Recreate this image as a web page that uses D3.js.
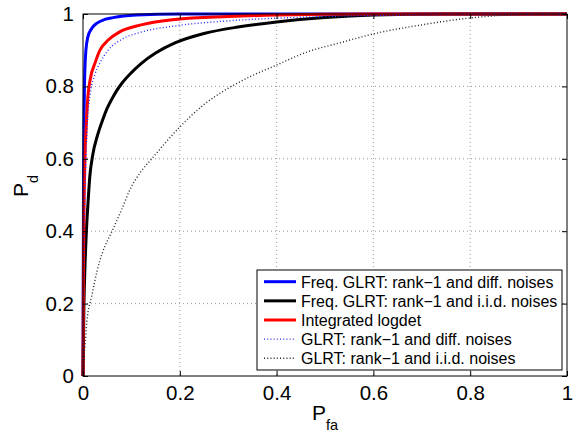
<!DOCTYPE html>
<html><head><meta charset="utf-8">
<script src="https://cdn.jsdelivr.net/npm/d3@7"></script>
<style>body{margin:0;background:#fff}svg{display:block}text{font-family:"Liberation Sans",Arial,sans-serif;fill:#000}</style>
</head><body>
<svg id="c" width="578" height="432"></svg>
<script>
const xTicks = [0, 0.2, 0.4, 0.6, 0.8, 1];
const yTicks = [0, 0.2, 0.4, 0.6, 0.8, 1];
const tickLabels = ["0", "0.2", "0.4", "0.6", "0.8", "1"];
const seriesNames = [
  "Freq. GLRT: rank\u22121 and diff. noises",
  "Freq. GLRT: rank\u22121 and i.i.d. noises",
  "Integrated logdet",
  "GLRT: rank\u22121 and diff. noises",
  "GLRT: rank\u22121 and i.i.d. noises"
];
const freqDiff = [[0,0],[0.001,0.5],[0.002,0.7],[0.003,0.8],[0.004,0.85],[0.006,0.9],[0.01,0.936],[0.018,0.96],[0.029,0.975],[0.045,0.985],[0.062,0.99],[0.11,0.997],[0.2,1],[1,1]];
const freqIid = [[0,0],[0.002,0.2],[0.004,0.3],[0.007,0.4],[0.01,0.47],[0.014,0.55],[0.02,0.61],[0.03,0.665],[0.04,0.705],[0.05,0.74],[0.06,0.766],[0.07,0.789],[0.08,0.808],[0.1,0.838],[0.12,0.863],[0.15,0.892],[0.19,0.92],[0.25,0.946],[0.32,0.964],[0.4,0.978],[0.5,0.99],[0.6,0.997],[0.75,1],[1,1]];
const logdet = [[0,0],[0.001,0.3],[0.002,0.45],[0.004,0.6],[0.007,0.7],[0.01,0.77],[0.015,0.82],[0.025,0.865],[0.035,0.9],[0.052,0.928],[0.075,0.95],[0.12,0.97],[0.19,0.985],[0.3,0.993],[0.4,0.997],[0.6,1],[1,1]];
const glrtDiff = [[0,0],[0.001,0.25],[0.003,0.45],[0.006,0.6],[0.01,0.72],[0.015,0.78],[0.025,0.835],[0.035,0.865],[0.052,0.9],[0.08,0.93],[0.12,0.95],[0.19,0.967],[0.3,0.981],[0.45,0.991],[0.6,0.996],[0.8,1],[1,1]];
const glrtIid = [[0,0],[0.001,0.04],[0.004,0.08],[0.008,0.15],[0.018,0.22],[0.029,0.29],[0.04,0.34],[0.06,0.40],[0.08,0.46],[0.097,0.515],[0.12,0.565],[0.142,0.6],[0.2,0.688],[0.25,0.75],[0.304,0.798],[0.35,0.83],[0.4,0.859],[0.463,0.895],[0.53,0.92],[0.6,0.945],[0.7,0.97],[0.8,0.989],[0.876,0.997],[0.95,1],[1,1]];

const series = [
  {name: seriesNames[0], data: freqDiff, color: "#0000ff", w: 3, dash: null},
  {name: seriesNames[1], data: freqIid, color: "#000000", w: 3, dash: null},
  {name: seriesNames[2], data: logdet, color: "#ff0000", w: 3, dash: null},
  {name: seriesNames[3], data: glrtDiff, color: "#2a2aff", w: 1.4, dash: "1,2.2"},
  {name: seriesNames[4], data: glrtIid, color: "#222222", w: 1.4, dash: "1,2.2"}
];

const L = 83, R = 567, T = 14, B = 376;
const svg = d3.select("#c");
const x = d3.scaleLinear().domain([0,1]).range([L,R]);
const y = d3.scaleLinear().domain([0,1]).range([B,T]);

// grid
const g = svg.append("g");
g.selectAll(".gx").data(xTicks.slice(1,-1)).join("line")
  .attr("x1", d=>x(d)).attr("x2", d=>x(d)).attr("y1", T).attr("y2", B)
  .attr("stroke", "#999").attr("stroke-width", 1).attr("stroke-dasharray", "1,3");
g.selectAll(".gy").data(yTicks.slice(1,-1)).join("line")
  .attr("y1", d=>y(d)).attr("y2", d=>y(d)).attr("x1", L).attr("x2", R)
  .attr("stroke", "#999").attr("stroke-width", 1).attr("stroke-dasharray", "1,3");

// clip
svg.append("clipPath").attr("id","clip").append("rect").attr("x",L-2).attr("y",T-2).attr("width",R-L+4).attr("height",B-T+4);

const line = d3.line().x(d=>x(d[0])).y(d=>y(d[1])).curve(d3.curveMonotoneX);
svg.append("g").attr("clip-path","url(#clip)").selectAll("path").data(series).join("path")
  .attr("d", d=>line(d.data)).attr("fill","none")
  .attr("stroke", d=>d.color).attr("stroke-width", d=>d.w)
  .attr("stroke-dasharray", d=>d.dash);

// axes (inside ticks, mirrored)
const ax = svg.append("g");
ax.append("g").attr("transform", `translate(0,${B})`).call(d3.axisBottom(x).tickValues(xTicks).tickSizeInner(-5).tickSizeOuter(0).tickPadding(9).tickFormat((d,i)=>tickLabels[i]));
ax.append("g").attr("transform", `translate(0,${T})`).call(d3.axisTop(x).tickValues(xTicks).tickSizeInner(-5).tickSizeOuter(0).tickFormat(""));
ax.append("g").attr("transform", `translate(${L},0)`).call(d3.axisLeft(y).tickValues(yTicks).tickSizeInner(-5).tickSizeOuter(0).tickPadding(9).tickFormat((d,i)=>tickLabels[i]));
ax.append("g").attr("transform", `translate(${R},0)`).call(d3.axisRight(y).tickValues(yTicks).tickSizeInner(-5).tickSizeOuter(0).tickFormat(""));
ax.selectAll(".domain").remove();
ax.selectAll(".tick line").attr("stroke","#000");
ax.selectAll(".tick text").style("font-size","20.5px").style("font-family",'"Liberation Sans",Arial,sans-serif').attr("fill","#000");
svg.append("rect").attr("x",L).attr("y",T).attr("width",R-L).attr("height",B-T).attr("fill","none").attr("stroke","#000").attr("stroke-width",1);

// axis labels
const xl = svg.append("text").attr("x", 325).attr("y", 420).attr("text-anchor","middle").style("font-size","21px");
xl.append("tspan").text("P");
xl.append("tspan").attr("dy", 10).style("font-size","14.5px").text("fa");
const yl = svg.append("text").attr("transform","translate(28,186) rotate(-90)").attr("text-anchor","middle").style("font-size","21px");
yl.append("tspan").text("P");
yl.append("tspan").attr("dy", 10).style("font-size","14.5px").text("d");

// legend
const lg = svg.append("g");
lg.append("rect").attr("x",257).attr("y",270).attr("width",305).attr("height",100).attr("fill","#fff").attr("stroke","#000").attr("stroke-width",1);
const rows = lg.selectAll(".row").data(series).join("g").attr("transform",(d,i)=>`translate(0,${281.7 + i*19.15})`);
rows.append("line").attr("x1",264).attr("x2",296).attr("y1",0).attr("y2",0)
  .attr("stroke", d=>d.color).attr("stroke-width", d=>d.w).attr("stroke-dasharray", d=>d.dash);
rows.append("text").attr("x",301).attr("y",5.8).style("font-size","16px").text(d=>d.name);
</script>
</body></html>
